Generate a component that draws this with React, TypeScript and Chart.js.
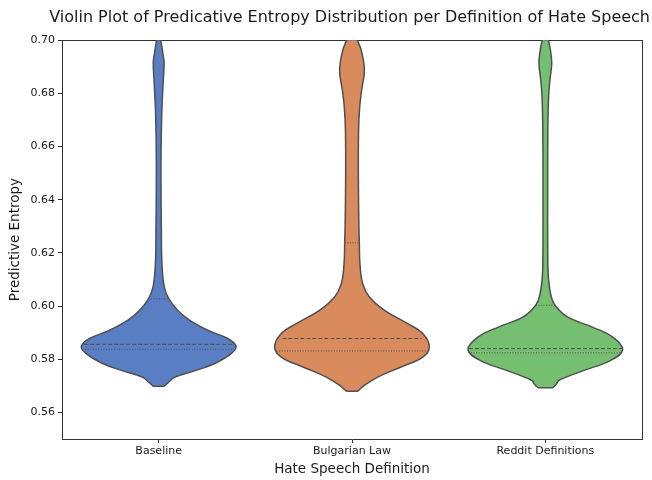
import React, { useEffect, useRef } from "react";
import { Chart, registerables } from "chart.js";
Chart.register(...registerables);

const categories = ["Baseline", "Bulgarian Law", "Reddit Definitions"];
const yTicks = [0.56, 0.58, 0.6, 0.62, 0.64, 0.66, 0.68, 0.7];

// violin outlines: entropy levels (bottom to top) and half-widths (x units)
const baselineLevels = [0.5698, 0.5711, 0.5733, 0.5758, 0.5784, 0.5821, 0.5849, 0.5878, 0.5909, 0.5947, 0.5984, 0.6027, 0.6072, 0.616, 0.6286, 0.6538, 0.6725, 0.6851, 0.6914, 0.6945, 0.7, 0.704];
const baselineHalfWidths = [0.028, 0.047, 0.085, 0.193, 0.29, 0.375, 0.4, 0.357, 0.254, 0.159, 0.098, 0.053, 0.029, 0.017, 0.014, 0.012, 0.016, 0.024, 0.028, 0.023, 0.011, 0.004];

const bulgarianLevels = [0.568, 0.5702, 0.5733, 0.5771, 0.5808, 0.5846, 0.5897, 0.5934, 0.5984, 0.6034, 0.6085, 0.616, 0.6238, 0.6286, 0.6474, 0.6662, 0.675, 0.6813, 0.6888, 0.6964, 0.7, 0.705];
const bulgarianHalfWidths = [0.029, 0.064, 0.133, 0.254, 0.366, 0.4, 0.366, 0.288, 0.168, 0.09, 0.055, 0.041, 0.038, 0.036, 0.033, 0.034, 0.04, 0.05, 0.064, 0.047, 0.028, 0.008];

const redditLevels = [0.5693, 0.5705, 0.5721, 0.5758, 0.5796, 0.5836, 0.5884, 0.5921, 0.5959, 0.6003, 0.6034, 0.6097, 0.616, 0.6411, 0.6662, 0.6788, 0.6851, 0.6914, 0.6964, 0.7, 0.704];
const redditHalfWidths = [0.038, 0.055, 0.071, 0.2, 0.338, 0.4, 0.347, 0.243, 0.114, 0.05, 0.031, 0.017, 0.013, 0.012, 0.013, 0.017, 0.024, 0.033, 0.026, 0.016, 0.005];

// inner quartile lines: [Q1, median, Q3] and their half-widths
const baselineQuartiles = [0.5837, 0.5856, 0.6027];
const baselineQuartileWidths = [0.38, 0.385, 0.053];
const bulgarianQuartiles = [0.5831, 0.5878, 0.6238];
const bulgarianQuartileWidths = [0.39, 0.36, 0.038];
const redditQuartiles = [0.5824, 0.584, 0.6003];
const redditQuartileWidths = [0.385, 0.395, 0.05];

const violinColors = ["#5a7ec4", "#d98b5e", "#74bf70"];
const edgeColor = "#4f4f4f";

function outline(center: number, levels: number[], widths: number[]) {
  const pts: { x: number; y: number }[] = [];
  // bottom-left corner, then a straight flat bottom edge to the right (duplicated corners keep it sharp)
  pts.push({ x: center - widths[0], y: levels[0] });
  pts.push({ x: center + widths[0], y: levels[0] });
  for (let i = 0; i < levels.length; i++) pts.push({ x: center + widths[i], y: levels[i] });
  for (let i = levels.length - 1; i >= 0; i--) pts.push({ x: center - widths[i], y: levels[i] });
  pts.push({ x: center - widths[0], y: levels[0] });
  return pts;
}

export default function App() {
  const ref = useRef<HTMLCanvasElement>(null);
  useEffect(() => {
    document.body.style.margin = "0";
    Chart.defaults.font.family = "'DejaVu Sans', sans-serif";
    Chart.defaults.color = "#1a1a1a";
    const violins = [
      [baselineLevels, baselineHalfWidths],
      [bulgarianLevels, bulgarianHalfWidths],
      [redditLevels, redditHalfWidths],
    ];
    const quarts = [
      [baselineQuartiles, baselineQuartileWidths],
      [bulgarianQuartiles, bulgarianQuartileWidths],
      [redditQuartiles, redditQuartileWidths],
    ];
    const datasets: any[] = [];
    violins.forEach(([lv, wd], i) => {
      datasets.push({
        type: "line",
        data: outline(i, lv, wd),
        borderColor: edgeColor,
        borderWidth: 1.5,
        backgroundColor: violinColors[i],
        fill: "shape",
        tension: 0.4,
        pointRadius: 0,
        clip: 0,
        order: 2,
      });
    });
    quarts.forEach(([qv, qw], i) => {
      qv.forEach((q, k) => {
        datasets.push({
          type: "line",
          data: [
            { x: i - qw[k], y: q },
            { x: i + qw[k], y: q },
          ],
          borderColor: edgeColor,
          borderWidth: 1,
          borderDash: k === 1 ? [4, 2] : [1, 1.6],
          fill: false,
          pointRadius: 0,
          tension: 0,
          clip: 0,
          order: 1,
        });
      });
    });
    const chart = new Chart(ref.current!, {
      type: "line",
      data: { datasets },
      options: {
        animation: false,
        responsive: false,
        events: [],
        layout: { padding: { left: 0, right: 2, top: 0, bottom: 0 } },
        plugins: {
          legend: { display: false },
          tooltip: { enabled: false },
          title: {
            display: true,
            fullSize: true,
            align: "end",
            text: "Violin Plot of Predicative Entropy Distribution per Definition of Hate Speech",
            font: { size: 16, weight: "normal" },
            color: "#1a1a1a",
            padding: { top: 8, bottom: 13 },
          },
        },
        scales: {
          x: {
            type: "linear",
            min: -0.5,
            max: 2.5,
            afterBuildTicks: (s: any) => {
              s.ticks = categories.map((_, i) => ({ value: i }));
            },
            afterFit: (s: any) => {
              s.height = 41;
            },
            ticks: {
              callback: (v: any) => categories[v as number],
              font: { size: 11 },
              padding: 2,
              maxRotation: 0,
              autoSkip: false,
            },
            grid: { drawOnChartArea: false, drawTicks: true, tickLength: 4, color: "#333" },
            border: { color: "#333", width: 1 },
            title: {
              display: true,
              text: "Hate Speech Definition",
              font: { size: 13.5 },
              padding: { top: 0, bottom: 2 },
            },
          },
          y: {
            type: "linear",
            min: 0.55,
            max: 0.7,
            afterBuildTicks: (s: any) => {
              s.ticks = yTicks.map((v) => ({ value: v }));
            },
            afterFit: (s: any) => {
              s.width = 62;
            },
            ticks: {
              callback: (v: any) => (v as number).toFixed(2),
              font: { size: 11 },
              padding: 3,
            },
            grid: { drawOnChartArea: false, drawTicks: true, tickLength: 4, color: "#333" },
            border: { color: "#333", width: 1 },
            title: {
              display: true,
              text: "Predictive Entropy",
              font: { size: 13.5 },
              padding: { top: 7, bottom: 0 },
            },
          },
          x2: {
            type: "linear",
            position: "top",
            min: 0,
            max: 1,
            ticks: { display: false },
            grid: { display: false },
            border: { display: true, color: "#333", width: 1 },
            afterFit: (s: any) => {
              s.height = 0;
            },
          },
          y2: {
            type: "linear",
            position: "right",
            min: 0,
            max: 1,
            ticks: { display: false },
            grid: { display: false },
            border: { display: true, color: "#333", width: 1 },
            afterFit: (s: any) => {
              s.width = 8;
            },
          },
        },
      } as any,
    });
    return () => chart.destroy();
  }, []);
  return (
    <div style={{ width: 652, height: 480 }}>
      <canvas ref={ref} width={652} height={480} style={{ width: 652, height: 480 }} />
    </div>
  );
}
